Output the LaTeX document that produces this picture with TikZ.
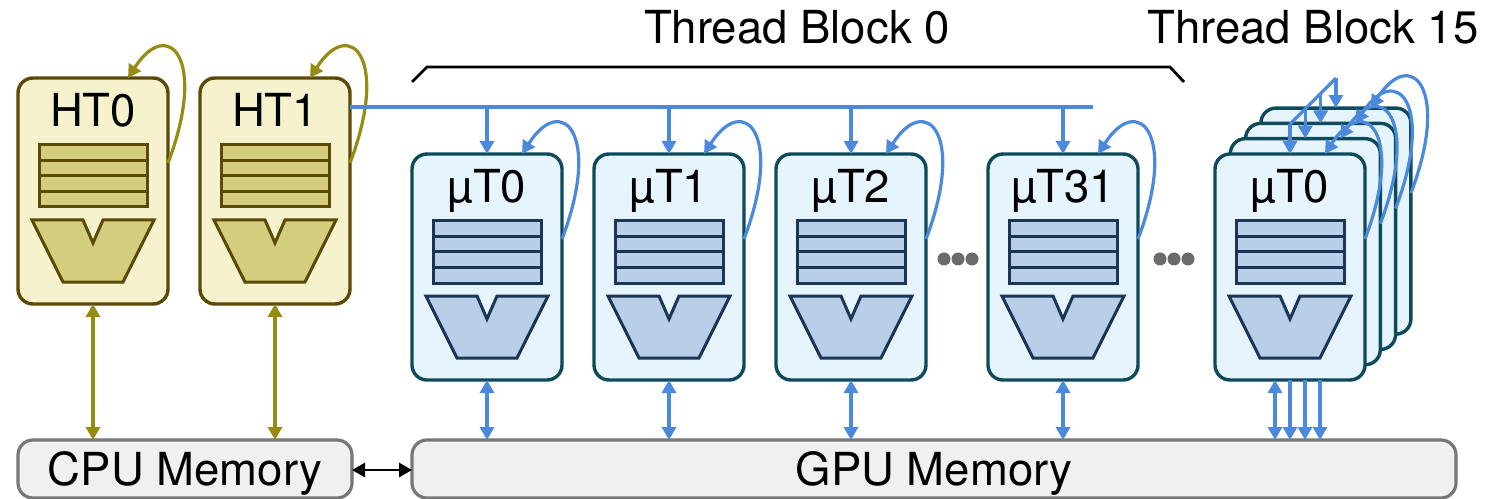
\documentclass[tikz,border=0pt]{standalone}
\usepackage{fontspec}
\setmainfont{TeX Gyre Heros}
\usetikzlibrary{arrows.meta,calc}

\definecolor{htFill}{HTML}{F6F2CE}
\definecolor{htLine}{HTML}{5A4A05}
\definecolor{htCore}{HTML}{D5CD7E}
\definecolor{htArrow}{HTML}{968C14}
\definecolor{utFill}{HTML}{E6F4FD}
\definecolor{utLine}{HTML}{0D4A5C}
\definecolor{utCore}{HTML}{B8CFE7}
\definecolor{utCoreLine}{HTML}{1B3557}
\definecolor{linkBlue}{HTML}{4A89DC}
\definecolor{memFill}{HTML}{F0F0F0}
\definecolor{memLine}{HTML}{777777}
\definecolor{dotGray}{HTML}{6B6B6B}

% register file + ALU drawn inside a thread box
\newcommand\corebits[3]{%
  \begin{scope}[shift={(#1.north west)}, line width=3bp, draw=#3, fill=#2]
    \filldraw (21,67) rectangle (129,129);
    \draw (21,82.5) -- (129,82.5) (21,98) -- (129,98) (21,113.5) -- (129,113.5);
    \filldraw (14,142) -- (65,142) -- (75,165) -- (85,142) -- (136,142)
      -- (105,204) -- (45,204) -- cycle;
  \end{scope}}

% a thread box with its name on top
\newcommand\thread[5]{%
  \node[#2] (#1) at (#3,#4) {};
  \node[lbl, anchor=base] (#1-lbl) at ($(#1.north)+(0,49)$) {#5};}

% loop from the right side back onto the top of a box
\newcommand\selfloop[2]{%
  \draw[#2, ->] ($(#1.north east)+(0,85)$)
    .. controls +(40,-105) and +(40,-62) .. ($(#1.north east)+(-40,0)$);}

\begin{document}
\begin{tikzpicture}[x=1bp, y=-1bp,
  >={Triangle[length=13bp,width=14bp]},
  lbl/.style={font=\fontsize{45.5bp}{50bp}\selectfont, inner sep=0pt, outer sep=0pt},
  tbox/.style={rounded corners=15bp, line width=3.4bp, minimum width=150bp,
    minimum height=226bp, inner sep=0pt, outer sep=0pt, anchor=north west},
  htbox/.style={tbox, draw=htLine, fill=htFill},
  utbox/.style={tbox, draw=utLine, fill=utFill},
  membox/.style={rounded corners=15bp, line width=3.2bp, draw=memLine, fill=memFill,
    inner sep=0pt, outer sep=0pt, anchor=north west, minimum height=58bp,
    font=\fontsize{45.5bp}{50bp}\selectfont, text depth=0pt},
  wire/.style={draw=linkBlue, line width=3.2bp},
  olive/.style={draw=htArrow, line width=3.2bp},
  dot/.style={circle, fill=dotGray, minimum size=13bp, inner sep=0pt}]

\useasboundingbox (0,0) rectangle (1485,499);

% memories
\node[membox, minimum width=334bp] (cpu) at (18,440) {CPU Memory};
\node[membox, minimum width=1044bp] (gpu) at (412,440) {GPU Memory};
\draw[line width=2.8bp, <->] (cpu.east |- 0,470) -- (gpu.west |- 0,470);

% host threads
\thread{h0}{htbox}{18}{78}{HT0}
\thread{h1}{htbox}{200}{78}{HT1}
\corebits{h0}{htCore}{htLine}
\corebits{h1}{htCore}{htLine}
\selfloop{h0}{olive}
\selfloop{h1}{olive}
\draw[olive, <->] (h0.south) -- (h0.south |- cpu.north);
\draw[olive, <->] (h1.south) -- (h1.south |- cpu.north);

% thread block 0
\thread{u0}{utbox}{412}{154}{µT0}
\thread{u1}{utbox}{594}{154}{µT1}
\thread{u2}{utbox}{776}{154}{µT2}
\thread{u31}{utbox}{988}{154}{µT31}
\foreach \u in {u0,u1,u2,u31}{
  \corebits{\u}{utCore}{utCoreLine}
  \selfloop{\u}{wire}
  \draw[wire, <->] (\u.south) -- (\u.south |- gpu.north);
}
\coordinate (busL) at ($(h1.north east)+(0,29)$);
\coordinate (busR) at ($(u31.north)+(30,-47)$);
\draw[wire] (busL) -- (busR);
\foreach \u in {u0,u1,u2,u31}
  \draw[wire, ->] (\u.north |- busL) -- (\u.north);

% thread block 15 (stacked)
\node[utbox] (s3) at (1260.9,108.1) {};
\node[utbox] (s2) at (1245.6,123.4) {};
\node[utbox] (s1) at (1230.3,138.7) {};
\thread{s0}{utbox}{1215}{154}{µT0}
\corebits{s0}{utCore}{utCoreLine}
\foreach \s in {s0,s1,s2,s3}{
  \selfloop{\s}{wire}
  \draw[wire, ->] ($(\s.north)+(0,-30)$) -- (\s.north);
}
\draw[wire] ($(s3.north)+(0,-30)$) -- ($(s0.north)+(0,-30)$);
\foreach \dx/\tips in {-15/<->, 0/->, 15/->, 30/->}{
  \coordinate (top) at ($(s0.south)+(\dx,0)$);
  \draw[wire, \tips] (top) -- (top |- gpu.north);
}

% ellipses between threads
\foreach \x [count=\i] in {944,958,972}
  \node[dot] (da\i) at (\x,259) {};
\foreach \x [count=\i] in {1160,1174,1188}
  \node[dot] (db\i) at (\x,259) {};

% block bracket and titles
\coordinate (brA) at (412,82);
\coordinate (brB) at (427,67);
\coordinate (brC) at (1170,67);
\coordinate (brD) at (1184,82);
\draw[line width=2.8bp] (brA) -- (brB) -- (brC) -- (brD);
\node[lbl, anchor=base] (tb0) at (797,44) {Thread Block 0};
\node[lbl, anchor=base] (tb15) at (1313,44) {Thread Block 15};

\end{tikzpicture}
\end{document}
